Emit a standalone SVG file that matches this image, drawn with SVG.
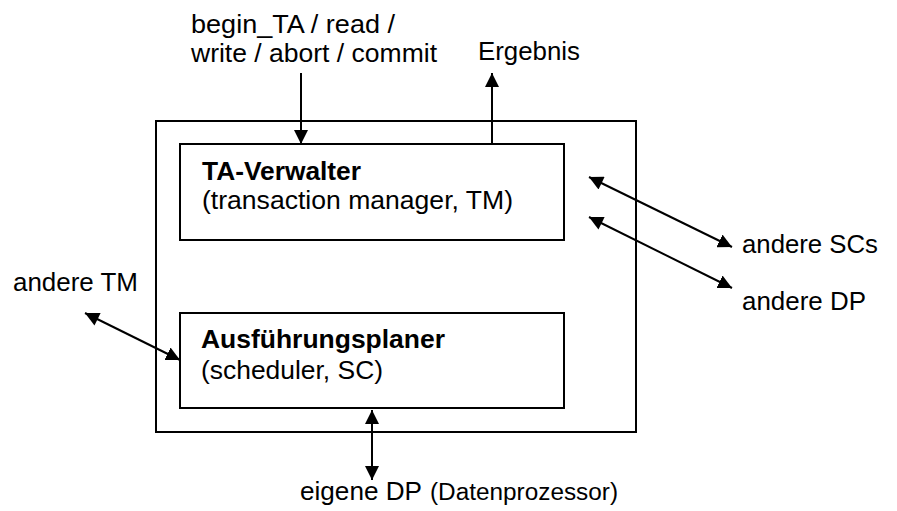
<svg xmlns="http://www.w3.org/2000/svg" width="897" height="511" viewBox="0 0 897 511">
  <style>
    .box { fill: #fff; stroke: #000; stroke-width: 2; }
    .frame { fill: none; stroke: #000; stroke-width: 2; }
    .t { font-family: "Liberation Sans", Arial, sans-serif; font-size: 26px; fill: #000; }
    .b { font-weight: bold; }
    .s { font-size: 23px; }
    .link { fill: none; stroke: #000; stroke-width: 2; }
    .one { marker-end: url(#head); }
    .two { marker-start: url(#tail); marker-end: url(#head); }
  </style>
  <defs>
    <marker id="head" markerUnits="userSpaceOnUse" markerWidth="15" markerHeight="14" refX="14" refY="7" orient="auto">
      <path d="M0,0 L14,7 L0,14 z" fill="#000"/>
    </marker>
    <marker id="tail" markerUnits="userSpaceOnUse" markerWidth="15" markerHeight="14" refX="0" refY="7" orient="auto">
      <path d="M14,0 L0,7 L14,14 z" fill="#000"/>
    </marker>
  </defs>

  <rect width="897" height="511" fill="#fff"/>

  <!-- enclosing system frame -->
  <g id="system">
    <rect class="frame" x="156" y="121" width="480" height="311"/>
  </g>

  <g id="tm">
    <rect class="box" x="180" y="144" width="384" height="96"/>
    <text class="t b" x="202" y="180" textLength="159" lengthAdjust="spacingAndGlyphs">TA-Verwalter</text>
    <text class="t" x="202" y="209" textLength="311" lengthAdjust="spacingAndGlyphs">(transaction manager, TM)</text>
  </g>

  <g id="sc">
    <rect class="box" x="180" y="313" width="384" height="95"/>
    <text class="t b" x="201" y="348" textLength="244" lengthAdjust="spacingAndGlyphs">Ausführungsplaner</text>
    <text class="t" x="201" y="379" textLength="182" lengthAdjust="spacingAndGlyphs">(scheduler, SC)</text>
  </g>

  <g id="labels">
    <text class="t" x="191" y="33" textLength="204" lengthAdjust="spacingAndGlyphs">begin_TA / read /</text>
    <text class="t" x="191" y="62" textLength="246" lengthAdjust="spacingAndGlyphs">write / abort / commit</text>
    <text class="t" x="478" y="60" textLength="102" lengthAdjust="spacingAndGlyphs">Ergebnis</text>
    <text class="t" x="13" y="291" textLength="125" lengthAdjust="spacingAndGlyphs">andere TM</text>
    <text class="t" x="742" y="253" textLength="136" lengthAdjust="spacingAndGlyphs">andere SCs</text>
    <text class="t" x="742" y="310" textLength="124" lengthAdjust="spacingAndGlyphs">andere DP</text>
    <text class="t" x="300" y="500" textLength="122" lengthAdjust="spacingAndGlyphs">eigene DP</text>
    <text class="t s" x="430" y="500" textLength="188" lengthAdjust="spacingAndGlyphs">(Datenprozessor)</text>
  </g>

  <g id="connectors">
    <line class="link one" x1="301" y1="73" x2="301" y2="144"/>
    <line class="link one" x1="492" y1="144" x2="492" y2="73"/>
    <line class="link two" x1="589" y1="177" x2="732" y2="247"/>
    <line class="link two" x1="589" y1="217" x2="732" y2="288"/>
    <line class="link two" x1="85" y1="313" x2="180" y2="360"/>
    <line class="link two" x1="372" y1="410" x2="372" y2="480"/>
  </g>
</svg>
